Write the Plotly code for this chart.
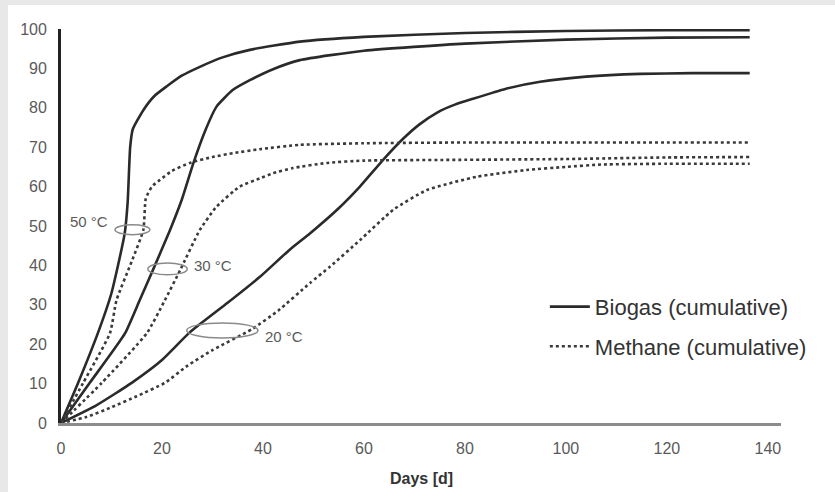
import plotly.graph_objects as go

# ---- data (days, cumulative %) ----
bio50_x = [0, 3.4, 7.3, 10, 12.6, 13.2, 13.7, 14.2, 16.3, 18.5, 20.9, 24, 27.5, 32, 37.4, 47.3, 60, 80, 100, 120, 136.4]
bio50_y = [0, 10.2, 22.8, 33, 48, 56, 70, 74.5, 79.4, 83, 85.4, 88.2, 90.4, 92.8, 94.7, 96.8, 98, 99, 99.5, 99.7, 99.7]

bio30_x = [0, 5.7, 12.7, 15.6, 18.2, 21.6, 23.9, 26.2, 28.5, 30.8, 34, 37.4, 42, 47.3, 60, 80, 100, 120, 136.4]
bio30_y = [0, 10.2, 22.8, 31.2, 38.8, 49, 56.6, 65.9, 74, 80.3, 84.5, 87, 89.8, 92.1, 94.5, 96.3, 97.3, 97.8, 97.9]

bio20_x = [0, 7, 14, 20, 25.5, 33, 39.4, 45.3, 49.3, 55, 59.2, 63.8, 67.8, 71, 74.5, 78, 81.6, 88, 94.9, 104, 114.7, 125, 136.4]
bio20_y = [0, 4.5, 10.2, 16, 23, 30.5, 37.1, 44, 48.1, 54.5, 60, 66.8, 72.2, 75.8, 78.8, 80.8, 82.3, 84.8, 86.6, 87.9, 88.6, 88.8, 88.8]

met50_x = [0, 4.4, 9.7, 11, 14, 16.3, 16.8, 18, 19.6, 22, 25.5, 30, 34.1, 39.4, 47.3, 60, 80, 100, 120, 136.4]
met50_y = [0, 10.2, 22.8, 31.2, 41, 49, 57, 60, 61.7, 64, 66, 67.5, 68.5, 69.5, 70.6, 71, 71.2, 71.2, 71.2, 71.2]

met30_x = [0, 8.1, 17, 20.5, 23.6, 27.5, 30.8, 35.4, 39.4, 42, 45.9, 52.6, 60, 80, 100, 120, 136.4]
met30_y = [0, 10.2, 22.8, 31, 38.8, 49, 54.9, 60, 62.1, 63.4, 64.7, 66, 66.6, 66.8, 67, 67.4, 67.5]

met20_x = [0, 5, 10, 15, 20.6, 25, 30, 37.8, 43, 49.3, 53.3, 59.2, 65.8, 72.4, 82.3, 92.2, 100, 107, 120, 136.4]
met20_y = [0, 1.5, 4, 6.8, 10.2, 14.5, 18.5, 23.8, 28.5, 35.5, 39.7, 46.4, 54.1, 59.1, 62.5, 64.2, 65, 65.6, 65.8, 65.8]

x_ticks = [0, 20, 40, 60, 80, 100, 120, 140]
y_ticks = [0, 10, 20, 30, 40, 50, 60, 70, 80, 90, 100]

temp_labels = ["50 °C", "30 °C", "20 °C"]
label_x = [1.4, 25.9, 40.0]
label_y = [51.1, 39.9, 21.9]
ell_x0 = [10.7, 17.2, 24.9]
ell_x1 = [17.6, 25.0, 39.0]
ell_y0 = [47.8, 37.6, 21.6]
ell_y1 = [50.3, 40.6, 25.4]

BIO_COLOR = "#2a2a2a"
MET_COLOR = "#3a3a3a"
FONT = "Liberation Sans, Arial"

fig = go.Figure()
biogas = [(bio50_x, bio50_y), (bio30_x, bio30_y), (bio20_x, bio20_y)]
methane = [(met50_x, met50_y), (met30_x, met30_y), (met20_x, met20_y)]
for i, (xs, ys) in enumerate(biogas):
    fig.add_trace(go.Scatter(x=xs, y=ys, mode="lines", name="Biogas (cumulative)",
                             legendgroup="bio", showlegend=(i == 0),
                             line=dict(color=BIO_COLOR, width=2.6, shape="spline", smoothing=0.5)))
for i, (xs, ys) in enumerate(methane):
    fig.add_trace(go.Scatter(x=xs, y=ys, mode="lines", name="Methane (cumulative)",
                             legendgroup="met", showlegend=(i == 0),
                             line=dict(color=MET_COLOR, width=2.6, dash="dot", shape="spline", smoothing=0.5)))

shapes = [dict(type="rect", xref="paper", yref="paper", x0=-0.0736, x1=1.2, y0=-0.3, y1=1.061,
               fillcolor="white", line=dict(width=0), layer="below")]
for i in range(3):
    shapes.append(dict(type="circle", xref="x", yref="y", x0=ell_x0[i], x1=ell_x1[i],
                       y0=ell_y0[i], y1=ell_y1[i], line=dict(color="#8a8a8a", width=1.5)))

annotations = []
for i in range(3):
    annotations.append(dict(x=label_x[i], y=label_y[i], xref="x", yref="y", text=temp_labels[i],
                            showarrow=False, xanchor="left", yanchor="middle",
                            font=dict(size=15, color="#5a5a5a", family=FONT)))
annotations.append(dict(x=0.5, y=-0.14, xref="paper", yref="paper", text="<b>Days [d]</b>",
                        showarrow=False, xanchor="center", yanchor="middle",
                        font=dict(size=16, color="#333333", family=FONT)))

fig.update_layout(
    width=835, height=492,
    margin=dict(l=61, r=54, t=29, b=69),
    paper_bgcolor="#e8e8e8", plot_bgcolor="white",
    font=dict(family=FONT, color="#555555"),
    shapes=shapes, annotations=annotations,
    legend=dict(x=0.672, y=0.244, xanchor="left", yanchor="middle",
                bgcolor="rgba(0,0,0,0)", font=dict(size=22, color="#333333"),
                itemwidth=40, tracegroupgap=8),
)
fig.update_xaxes(range=[0, 142.6], tickvals=x_ticks, showgrid=False, zeroline=False,
                 showline=True, linecolor="#8c8c8c", linewidth=2.5, ticks="",
                 ticklabelstandoff=9, tickfont=dict(size=16, color="#5a5a5a"))
fig.update_yaxes(range=[0, 100], tickvals=y_ticks, showgrid=False, zeroline=False,
                 showline=True, linecolor="#222222", linewidth=2.8, ticks="",
                 ticklabelstandoff=8, tickfont=dict(size=16, color="#5a5a5a"))

fig.write_html("out.html", config={"displayModeBar": False},
               post_script="document.body.style.margin='0';document.body.style.background='#e8e8e8';")
